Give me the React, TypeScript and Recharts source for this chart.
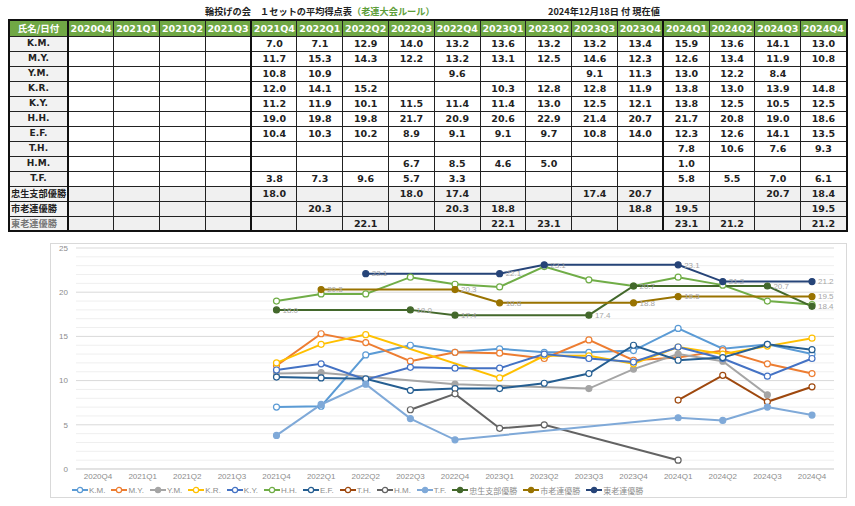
import React from 'react';
import { LineChart, Line, XAxis, YAxis, CartesianGrid, ReferenceLine, LabelList, Legend } from 'recharts';

const QUARTERS = [
  '2020Q4', '2021Q1', '2021Q2', '2021Q3', '2021Q4', '2022Q1', '2022Q2', '2022Q3', '2022Q4',
  '2023Q1', '2023Q2', '2023Q3', '2023Q4', '2024Q1', '2024Q2', '2024Q3', '2024Q4',
];

const _ = null;
const KM = [_, _, _, _, 7.0, 7.1, 12.9, 14.0, 13.2, 13.6, 13.2, 13.2, 13.4, 15.9, 13.6, 14.1, 13.0];
const MY = [_, _, _, _, 11.7, 15.3, 14.3, 12.2, 13.2, 13.1, 12.5, 14.6, 12.3, 12.6, 13.4, 11.9, 10.8];
const YM = [_, _, _, _, 10.8, 10.9, _, _, 9.6, _, _, 9.1, 11.3, 13.0, 12.2, 8.4, _];
const KR = [_, _, _, _, 12.0, 14.1, 15.2, _, _, 10.3, 12.8, 12.8, 11.9, 13.8, 13.0, 13.9, 14.8];
const KY = [_, _, _, _, 11.2, 11.9, 10.1, 11.5, 11.4, 11.4, 13.0, 12.5, 12.1, 13.8, 12.5, 10.5, 12.5];
const HH = [_, _, _, _, 19.0, 19.8, 19.8, 21.7, 20.9, 20.6, 22.9, 21.4, 20.7, 21.7, 20.8, 19.0, 18.6];
const EF = [_, _, _, _, 10.4, 10.3, 10.2, 8.9, 9.1, 9.1, 9.7, 10.8, 14.0, 12.3, 12.6, 14.1, 13.5];
const TH = [_, _, _, _, _, _, _, _, _, _, _, _, _, 7.8, 10.6, 7.6, 9.3];
const HM = [_, _, _, _, _, _, _, 6.7, 8.5, 4.6, 5.0, _, _, 1.0, _, _, _];
const TF = [_, _, _, _, 3.8, 7.3, 9.6, 5.7, 3.3, _, _, _, _, 5.8, 5.5, 7.0, 6.1];
const CHUSEI = [_, _, _, _, 18.0, _, _, 18.0, 17.4, _, _, 17.4, 20.7, _, _, 20.7, 18.4];
const SHIROREN = [_, _, _, _, _, 20.3, _, _, 20.3, 18.8, _, _, 18.8, 19.5, _, _, 19.5];
const TOROREN = [_, _, _, _, _, _, 22.1, _, _, 22.1, 23.1, _, _, 23.1, 21.2, _, 21.2];

const Y_TICKS = [0, 5, 10, 15, 20, 25];
const MINOR_TICKS = [1, 2, 3, 4, 6, 7, 8, 9, 11, 12, 13, 14, 16, 17, 18, 19, 21, 22, 23, 24];

type Series = { key: string; name: string; values: (number | null)[]; color: string; filled: boolean; labels?: boolean; team?: boolean };

const SERIES: Series[] = [
  { key: 'km', name: 'K.M.', values: KM, color: '#5b9bd5', filled: false },
  { key: 'my', name: 'M.Y.', values: MY, color: '#ed7d31', filled: false },
  { key: 'ym', name: 'Y.M.', values: YM, color: '#a5a5a5', filled: true },
  { key: 'kr', name: 'K.R.', values: KR, color: '#ffc000', filled: false },
  { key: 'ky', name: 'K.Y.', values: KY, color: '#4472c4', filled: false },
  { key: 'hh', name: 'H.H.', values: HH, color: '#70ad47', filled: false },
  { key: 'ef', name: 'E.F.', values: EF, color: '#255e91', filled: false },
  { key: 'th', name: 'T.H.', values: TH, color: '#9e480e', filled: false },
  { key: 'hm', name: 'H.M.', values: HM, color: '#636363', filled: false },
  { key: 'tf', name: 'T.F.', values: TF, color: '#7fa9d8', filled: true },
  { key: 'chusei', name: '忠生支部優勝', values: CHUSEI, color: '#43682b', filled: true, labels: true, team: true },
  { key: 'shiroren', name: '市老連優勝', values: SHIROREN, color: '#997300', filled: true, labels: true, team: true },
  { key: 'tororen', name: '東老連優勝', values: TOROREN, color: '#264478', filled: true, labels: true, team: true },
];

const data = QUARTERS.map((q, i) => {
  const row: Record<string, number | string | null> = { q };
  for (const s of SERIES) row[s.key] = s.values[i];
  return row;
});

const FONT = '"Liberation Sans", "Noto Sans CJK JP", sans-serif';
const TABLE_FONT = '"DejaVu Sans", "Noto Sans CJK JP", sans-serif';

function LegendContent() {
  return (
    <div style={{ display: 'flex', gap: 6, height: 14, alignItems: 'center', fontFamily: FONT, fontSize: 8, color: '#8c8c8c' }}>
      {SERIES.map((s) => (
        <div key={s.key} style={{ display: 'flex', alignItems: 'center' }}>
          <svg width={16} height={8} style={{ marginRight: 1 }}>
            <line x1={0} y1={4} x2={16} y2={4} stroke={s.color} strokeWidth={2} />
            <circle cx={8} cy={4} r={2.6} fill={s.filled ? s.color : '#fff'} stroke={s.color} strokeWidth={1.2} />
          </svg>
          <span>{s.name}</span>
        </div>
      ))}
    </div>
  );
}

function ScoreTable() {
  const cell: React.CSSProperties = {
    border: '1px solid #222',
    padding: 0,
    textAlign: 'center',
    fontWeight: 'bold',
    fontSize: 9.5,
    lineHeight: '13px',
    whiteSpace: 'nowrap',
    overflow: 'hidden',
  };
  const thick = (i: number) => (i === 0 || i === 4 || i === 13 ? '2px solid #111' : '1px solid #222');
  return (
    <table style={{ position: 'absolute', left: 8, top: 19, width: 838, borderCollapse: 'collapse', tableLayout: 'fixed', fontFamily: TABLE_FONT, border: '2px solid #111' }}>
      <colgroup>
        <col style={{ width: 59 }} />
        {QUARTERS.map((q) => <col key={q} style={{ width: 45.8 }} />)}
      </colgroup>
      <tbody>
        <tr style={{ height: 16 }}>
          <td style={{ ...cell, background: '#70a845', color: '#fff', fontFamily: '"Noto Sans CJK JP", sans-serif', fontSize: 9.5 }}>氏名/日付</td>
          {QUARTERS.map((q, i) => (
            <td key={q} style={{ ...cell, background: '#70a845', color: '#fff', borderLeft: thick(i) }}>{q}</td>
          ))}
        </tr>
        {SERIES.map((s) => (
          <tr key={s.key} style={{ height: 15 }}>
            <td style={{
              ...cell,
              background: '#f2f2f2',
              color: s.key === 'tororen' ? '#777' : '#222',
              textAlign: s.team ? 'left' : 'center',
              paddingLeft: s.team ? 1 : 0,
              fontFamily: s.team ? '"Noto Sans CJK JP", sans-serif' : TABLE_FONT,
              fontSize: s.team ? 9.2 : 9,
            }}>{s.name}</td>
            {s.values.map((v, i) => (
              <td key={i} style={{ ...cell, background: s.team ? '#f0f0f0' : '#fff', color: '#222', borderLeft: thick(i) }}>
                {v == null ? '' : v.toFixed(1)}
              </td>
            ))}
          </tr>
        ))}
      </tbody>
    </table>
  );
}

export default function App() {
  return (
    <div style={{ position: 'absolute', left: 0, top: 0, width: 855, height: 506, background: '#fff', overflow: 'hidden' }}>
      <div style={{ position: 'absolute', left: 205, top: 4, fontFamily: '"Noto Sans CJK JP", sans-serif', fontSize: 9.2, fontWeight: 'bold', color: '#222', whiteSpace: 'nowrap' }}>
        輪投げの会　１セットの平均得点表<span style={{ color: '#5e9e3a' }}>（老連大会ルール）</span>
      </div>
      <div style={{ position: 'absolute', left: 548, top: 4, fontFamily: '"Noto Sans CJK JP", sans-serif', fontSize: 9.2, fontWeight: 'bold', color: '#222', whiteSpace: 'nowrap' }}>
        2024年12月18日 付 現在値
      </div>
      <ScoreTable />
      <div style={{ position: 'absolute', left: 50, top: 243, width: 795, height: 253, border: '1px solid #d9d9d9' }}>
        <LineChart width={795} height={253} data={data} margin={{ top: 4, right: 12, left: 5, bottom: 0 }}>
          <CartesianGrid vertical={false} stroke="#d9d9d9" />
          {MINOR_TICKS.map((t) => (
            <ReferenceLine key={t} y={t} stroke="#efefef" />
          ))}
          <XAxis dataKey="q" padding={{ left: 22, right: 22 }} height={14} tickLine={false} axisLine={{ stroke: '#d9d9d9' }}
            tickSize={2} tickMargin={2} interval={0} tick={{ fontSize: 8, fill: '#8c8c8c', fontFamily: FONT }} />
          <YAxis domain={[0, 25]} ticks={Y_TICKS} interval={0} width={20} axisLine={false} tickLine={false}
            tick={{ fontSize: 8, fill: '#8c8c8c', fontFamily: FONT }} />
          <Legend verticalAlign="bottom" align="left" content={<LegendContent />} wrapperStyle={{ left: 21, height: 14 }} />
          {SERIES.map((s) => (
            <Line key={s.key} dataKey={s.key} name={s.name} stroke={s.color} strokeWidth={2} connectNulls
              isAnimationActive={false}
              dot={{ r: 3, fill: s.filled ? s.color : '#fff', stroke: s.color, strokeWidth: 1.2 }}>
              {s.labels && (
                <LabelList dataKey={s.key} position="right" offset={6} fill="#a6a6a6" fontSize={8} fontFamily={FONT}
                  formatter={(v: any) => (v == null ? '' : Number(v).toFixed(1))} />
              )}
            </Line>
          ))}
        </LineChart>
      </div>
    </div>
  );
}
